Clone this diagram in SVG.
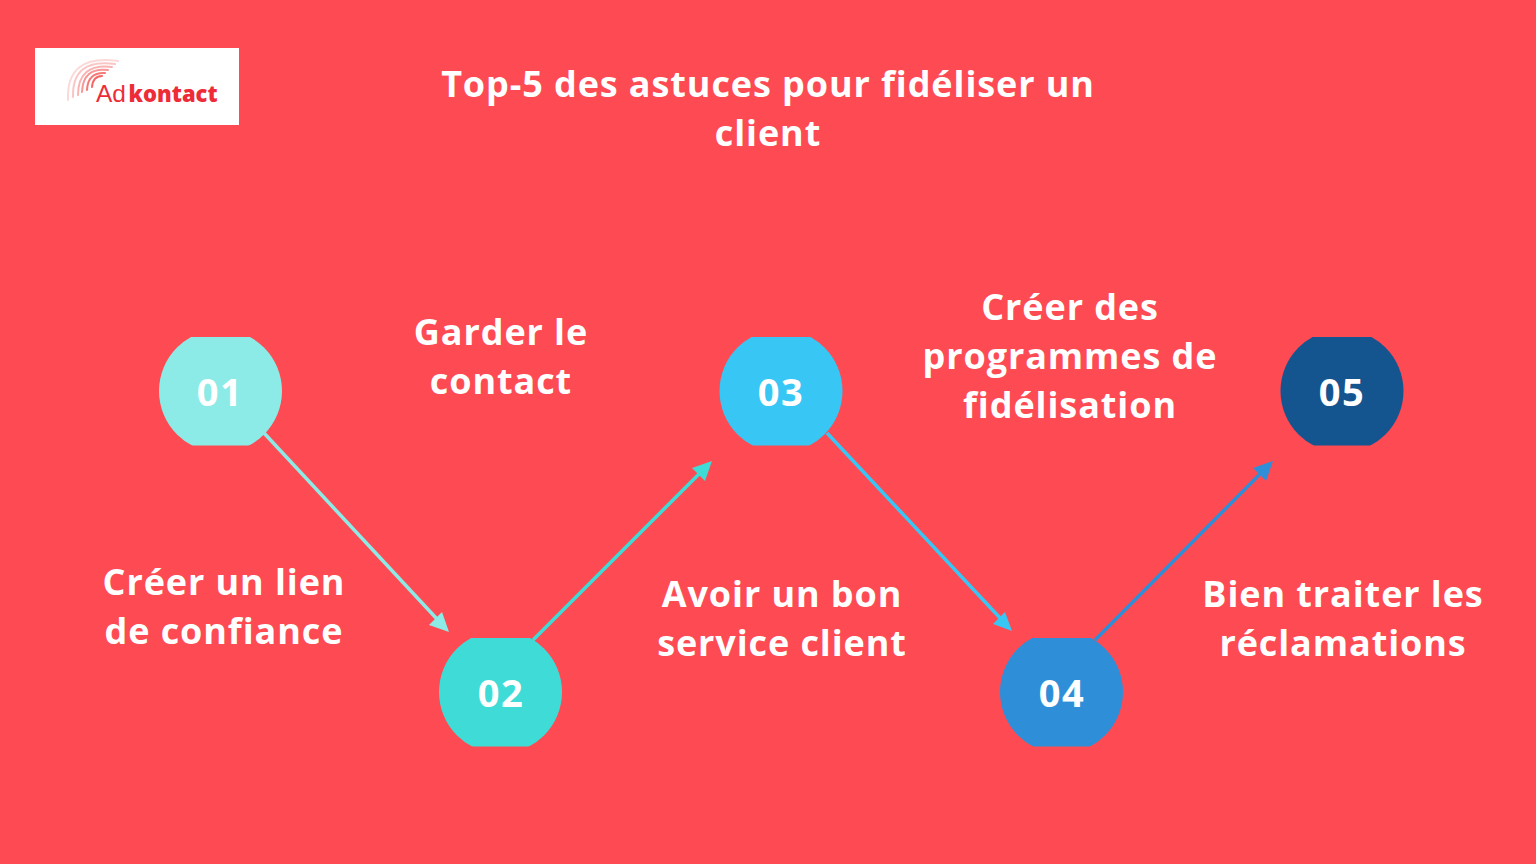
<svg xmlns="http://www.w3.org/2000/svg" width="1536" height="864" viewBox="0 0 1536 864">
<style>
text{font-family:"Open Sans","Noto Sans",sans-serif;font-weight:700;fill:#fff;text-anchor:middle}
.t{font-size:36px;letter-spacing:.9px}
.h{font-size:36px;letter-spacing:.9px}
.n{font-size:38px;font-weight:700;letter-spacing:1.6px}
.arc{fill:none;stroke:#f0413f}
</style>
<defs>
<clipPath id="c1"><rect x="150" y="337" width="140" height="108.500"/></clipPath>
<clipPath id="c2"><rect x="430" y="638" width="140" height="108.500"/></clipPath>
<clipPath id="c3"><rect x="710" y="337" width="140" height="108.500"/></clipPath>
<clipPath id="c4"><rect x="990" y="638" width="140" height="108.500"/></clipPath>
<clipPath id="c5"><rect x="1270" y="337" width="140" height="108.500"/></clipPath>
</defs>
<rect width="1536" height="864" fill="#fe4a53"/>
<g id="logo">
<rect x="35" y="48" width="204" height="77" fill="#fff"/>
<g class="arc" stroke-linecap="round" stroke-width="2">
<path d="M68 100Q66 54 118 61" opacity=".2"/>
<path d="M73 97Q72 58 115 64" opacity=".3"/>
<path d="M78 95Q78 63 112 67" opacity=".4"/>
<path d="M82 92Q83 67 108 70" opacity=".55"/>
<path d="M87 90Q88 72 105 73" opacity=".7"/>
<path d="M92 87Q93 76 102 76" opacity=".8"/>
</g>
<text x="96" y="102" style="text-anchor:start;font-family:'Liberation Sans',sans-serif;font-size:24.500px;font-weight:400;fill:#ee2c38">Ad</text>
<text x="128.500" y="102" style="text-anchor:start;font-family:'Open Sans',sans-serif;font-size:22px;font-weight:800;fill:#ee2c38">kontact</text>
</g>
<g id="title">
<text class="h" x="768" y="97">Top-5 des astuces pour fidéliser un</text>
<text class="h" x="768" y="146">client</text>
</g>
<g id="connectors" fill="none" stroke-width="3.500">
<line x1="264" y1="433" x2="437" y2="619" stroke="#8cebe6"/>
<path d="M449 632L429 625L442 612Z" fill="#8cebe6"/>
<line x1="533" y1="640" x2="701" y2="472" stroke="#3fdcd7"/>
<path d="M712 461L705 481L692 468Z" fill="#3fdcd7"/>
<line x1="827" y1="433" x2="1001" y2="619" stroke="#38c6f4"/>
<path d="M1012 631L993 624L1005 612Z" fill="#38c6f4"/>
<line x1="1095" y1="640" x2="1262" y2="472" stroke="#2e8fd8"/>
<path d="M1273 461L1266 481L1253 468Z" fill="#2e8fd8"/>
</g>
<g id="node1"><circle cx="220.500" cy="391" r="61.500" fill="#8cebe6" clip-path="url(#c1)"/><text class="n" x="220" y="406">01</text></g>
<g id="node2"><circle cx="500.500" cy="692" r="61.500" fill="#3fdcd7" clip-path="url(#c2)"/><text class="n" x="501" y="707">02</text></g>
<g id="node3"><circle cx="781" cy="391" r="61.500" fill="#38c6f4" clip-path="url(#c3)"/><text class="n" x="781" y="406">03</text></g>
<g id="node4"><circle cx="1061.500" cy="692" r="61.500" fill="#2e8fd8" clip-path="url(#c4)"/><text class="n" x="1062" y="707">04</text></g>
<g id="node5"><circle cx="1342" cy="391" r="61.500" fill="#15558f" clip-path="url(#c5)"/><text class="n" x="1342" y="406">05</text></g>
<g id="label1"><text class="t" x="224" y="595">Créer un lien</text><text class="t" x="224" y="644">de confiance</text></g>
<g id="label2"><text class="t" x="501" y="345">Garder le</text><text class="t" x="501" y="394">contact</text></g>
<g id="label3"><text class="t" x="782" y="607">Avoir un bon</text><text class="t" x="782" y="656">service client</text></g>
<g id="label4"><text class="t" x="1070" y="320">Créer des</text><text class="t" x="1070" y="369">programmes de</text><text class="t" x="1070" y="418">fidélisation</text></g>
<g id="label5"><text class="t" x="1343" y="607">Bien traiter les</text><text class="t" x="1343" y="656">réclamations</text></g>
</svg>
